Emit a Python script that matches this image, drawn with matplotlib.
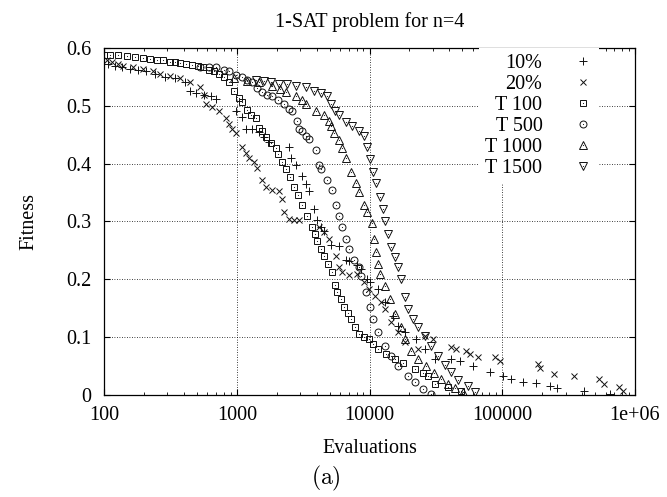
import matplotlib
matplotlib.use("Agg")
import matplotlib.pyplot as plt

plt.rcParams['font.family'] = ['Liberation Serif', 'DejaVu Serif']
plt.rcParams['mathtext.fontset'] = 'cm'

# 10% series (+)
p10_evals = [107, 121, 136, 157, 180, 206, 241, 286, 340, 404, 441, 497, 571, 644, 702,
             991, 1100, 1178, 1306, 1475, 1607, 1751, 2473, 2560, 2790, 3097, 3317, 3491,
             3808, 4009, 4296, 4522, 5100, 5858, 6610, 6964, 7995, 8570, 9500, 10170,
             11676, 13180, 15130, 16490, 18610, 22490, 26260, 31200, 41130, 48040, 60100,
             80600, 100900, 115800, 142500, 178300, 227000, 260600, 415000, 650000]
p10_fit = [0.572, 0.569, 0.567, 0.564, 0.562, 0.559, 0.555, 0.550, 0.547, 0.541, 0.526,
           0.522, 0.519, 0.516, 0.512, 0.491, 0.481, 0.460, 0.459, 0.455, 0.445, 0.438,
           0.429, 0.410, 0.398, 0.378, 0.364, 0.352, 0.321, 0.303, 0.290, 0.283, 0.260,
           0.257, 0.234, 0.231, 0.224, 0.217, 0.200, 0.195, 0.183, 0.160, 0.136, 0.119,
           0.109, 0.097, 0.079, 0.062, 0.062, 0.059, 0.050, 0.040, 0.033, 0.028, 0.022,
           0.021, 0.016, 0.012, 0.007, 0.002]

# 20% series (x)
p20_evals = [105, 115, 127, 139, 165, 196, 233, 263, 312, 371, 441, 524, 571, 591, 655,
             739, 834, 879, 925, 991, 1100, 1178, 1241, 1352, 1424, 1553, 1663, 1845, 2081,
             2192, 2269, 2473, 2697, 2939, 4150, 4522, 4930, 5560, 5858, 6170, 6964, 7995,
             9016, 9832, 11090, 12300, 13180, 14620, 16490, 18610, 23290, 26260, 30140,
             41130, 44850, 53310, 57100, 65500, 87900, 95800, 184500, 194100, 247300,
             349300, 537500, 586000, 758900, 813000]
p20_fit = [0.579, 0.576, 0.572, 0.569, 0.567, 0.564, 0.560, 0.555, 0.552, 0.547, 0.541,
           0.533, 0.519, 0.503, 0.498, 0.491, 0.478, 0.469, 0.460, 0.452, 0.428, 0.419,
           0.410, 0.402, 0.393, 0.372, 0.359, 0.355, 0.352, 0.338, 0.316, 0.305, 0.303,
           0.303, 0.291, 0.281, 0.269, 0.240, 0.222, 0.212, 0.207, 0.209, 0.195, 0.183,
           0.171, 0.160, 0.148, 0.126, 0.109, 0.091, 0.079, 0.102, 0.097, 0.083, 0.079,
           0.076, 0.071, 0.066, 0.066, 0.059, 0.053, 0.047, 0.036, 0.033, 0.028, 0.019,
           0.014, 0.007]

# T 100 (squares)
t100_evals = [100, 111, 127, 149, 171, 196, 221, 249, 277, 312, 340, 371, 411, 456, 506,
              561, 622, 678, 739, 806, 879, 958, 1044, 1100, 1199, 1284, 1400, 1475, 1553,
              1663, 1813, 1977, 2046, 2192, 2349, 2517, 2697, 2890, 3097, 3376, 3680, 3873,
              4009, 4296, 4522, 4845, 5191, 5467, 5660, 6064, 6387, 6844, 7208, 7723, 8274,
              9016, 9832, 10715, 11676, 13404, 15655, 17975, 22116, 25370, 27660, 31200,
              39060, 48870]
t100_fit = [0.588, 0.588, 0.588, 0.586, 0.584, 0.583, 0.581, 0.579, 0.578, 0.576, 0.576,
            0.574, 0.572, 0.571, 0.569, 0.566, 0.562, 0.559, 0.555, 0.550, 0.541, 0.526,
            0.514, 0.507, 0.493, 0.484, 0.478, 0.462, 0.457, 0.445, 0.436, 0.426, 0.416,
            0.403, 0.390, 0.376, 0.360, 0.345, 0.329, 0.310, 0.291, 0.278, 0.266, 0.252,
            0.240, 0.226, 0.212, 0.191, 0.178, 0.166, 0.153, 0.141, 0.131, 0.117, 0.105,
            0.100, 0.097, 0.088, 0.079, 0.071, 0.062, 0.055, 0.045, 0.038, 0.033, 0.019,
            0.014, 0.007]

# T 500 (circles)
t500_evals = [524, 622, 702, 806, 879, 991, 1100, 1199, 1306, 1424, 1553, 1692, 1845, 2046,
              2269, 2473, 2604, 2840, 2939, 3097, 3317, 3491, 3942, 4150, 4296, 4764, 5191,
              5560, 5858, 6170, 6610, 6964, 7586, 8274, 8570, 9333, 10170, 10715, 11676,
              13180, 14620, 16490, 19590, 22116, 25370, 29120]
t500_fit = [0.567, 0.566, 0.566, 0.562, 0.559, 0.553, 0.550, 0.545, 0.540, 0.531, 0.524,
            0.519, 0.516, 0.509, 0.502, 0.495, 0.491, 0.474, 0.459, 0.457, 0.447, 0.443,
            0.424, 0.398, 0.390, 0.372, 0.355, 0.329, 0.309, 0.290, 0.269, 0.252, 0.234,
            0.222, 0.205, 0.178, 0.153, 0.131, 0.109, 0.084, 0.067, 0.050, 0.033, 0.022,
            0.010, 0.002]

# T 1000 (triangles up)
t1000_evals = [958, 1199, 1475, 1845, 2118, 2349, 2790, 3097, 3317, 3942, 4522, 4930, 5100,
               5374, 5858, 6170, 6610, 7208, 7852, 8274, 9016, 9500, 10350, 10900, 11280,
               11676, 12080, 13180, 14360, 15655, 17370, 18610, 20640, 23290, 26720, 30690,
               34600, 39060, 44070, 50600]
t1000_fit = [0.547, 0.543, 0.541, 0.534, 0.529, 0.524, 0.516, 0.509, 0.503, 0.491, 0.483,
             0.474, 0.464, 0.452, 0.440, 0.426, 0.409, 0.386, 0.367, 0.350, 0.329, 0.317,
             0.297, 0.269, 0.247, 0.226, 0.209, 0.188, 0.166, 0.140, 0.117, 0.097, 0.076,
             0.062, 0.050, 0.038, 0.028, 0.019, 0.012, 0.005]

# T 1500 (triangles down)
t1500_evals = [1400, 1607, 1813, 2081, 2389, 2790, 3317, 3808, 4296, 4764, 5100, 5467, 5858,
               6610, 7330, 8274, 9016, 9500, 10170, 10715, 11280, 12080, 12730, 13180,
               13880, 14620, 15655, 16490, 17370, 18610, 19590, 21370, 23290, 26260, 29120,
               32870, 37090, 41130, 46420, 55180, 62230]
t1500_fit = [0.545, 0.543, 0.540, 0.538, 0.538, 0.534, 0.533, 0.526, 0.521, 0.516, 0.503,
             0.491, 0.483, 0.472, 0.464, 0.457, 0.447, 0.428, 0.407, 0.386, 0.366, 0.343,
             0.321, 0.300, 0.278, 0.255, 0.238, 0.221, 0.200, 0.169, 0.148, 0.131, 0.117,
             0.102, 0.084, 0.067, 0.052, 0.040, 0.026, 0.016, 0.005]

labels = ['10%', '20%', 'T 100', 'T 500', 'T 1000', 'T 1500']

fig = plt.figure(figsize=(6.67, 4.97), dpi=100)
ax = fig.add_axes([0.156, 0.205, 0.796, 0.699])

ink = '#111111'


def draw(x, y, marker, ms, dot):
    h, = ax.plot(x, y, linestyle='none', marker=marker, ms=ms, mfc='none',
                 mec=ink, mew=0.7)
    if not dot:
        return h
    # gnuplot style point with a small dot in the middle
    d, = ax.plot(x, y, linestyle='none', marker='.', ms=1.6, mfc=ink, mec='none')
    return (h, d)


handles = [
    draw(p10_evals, p10_fit, '+', 5.5, False),
    draw(p20_evals, p20_fit, 'x', 4.5, False),
    draw(t100_evals, t100_fit, 's', 4.6, True),
    draw(t500_evals, t500_fit, 'o', 5.0, True),
    draw(t1000_evals, t1000_fit, '^', 5.2, True),
    draw(t1500_evals, t1500_fit, 'v', 5.2, True),
]

ax.set_xscale('log')
ax.set_xlim(100, 1e6)
ax.set_ylim(0, 0.6)
ax.set_xticks([100, 1000, 10000, 100000, 1000000])
ax.set_xticklabels(['100', '1000', '10000', '100000', '1e+06'])
ax.set_yticks([0, 0.1, 0.2, 0.3, 0.4, 0.5, 0.6])
ax.set_yticklabels(['0', '0.1', '0.2', '0.3', '0.4', '0.5', '0.6'])

ax.tick_params(which='both', direction='in', top=True, right=True, labelsize=14.5)
ax.tick_params(which='major', length=4, width=0.8)
ax.tick_params(which='minor', length=2.2, width=0.6)
ax.tick_params(axis='x', pad=8)
ax.tick_params(axis='y', pad=9)
for s in ax.spines.values():
    s.set_linewidth(0.9)

ax.grid(True, which='major', linestyle=(0, (1, 2)), color='black', linewidth=0.6)

ax.set_title('1-SAT problem for n=4', fontsize=14.5, pad=15)
ax.set_xlabel('Evaluations', fontsize=14.5, labelpad=10)
ax.set_ylabel('Fitness', fontsize=14.5, labelpad=20)

leg = ax.legend(handles, labels, loc='upper right', bbox_to_anchor=(0.932, 1.0),
                markerfirst=False, frameon=True, fancybox=False, edgecolor='none',
                facecolor='white', framealpha=1, handlelength=1.0, handletextpad=1.5,
                labelspacing=0.1, borderpad=0.3, borderaxespad=0.0, fontsize=14.5)
leg.set_zorder(5)

fig.text(0.489, 0.038, r'$\mathrm{(a)}$', fontsize=17, ha='center', va='center')

fig.savefig('out.png', dpi=100)
